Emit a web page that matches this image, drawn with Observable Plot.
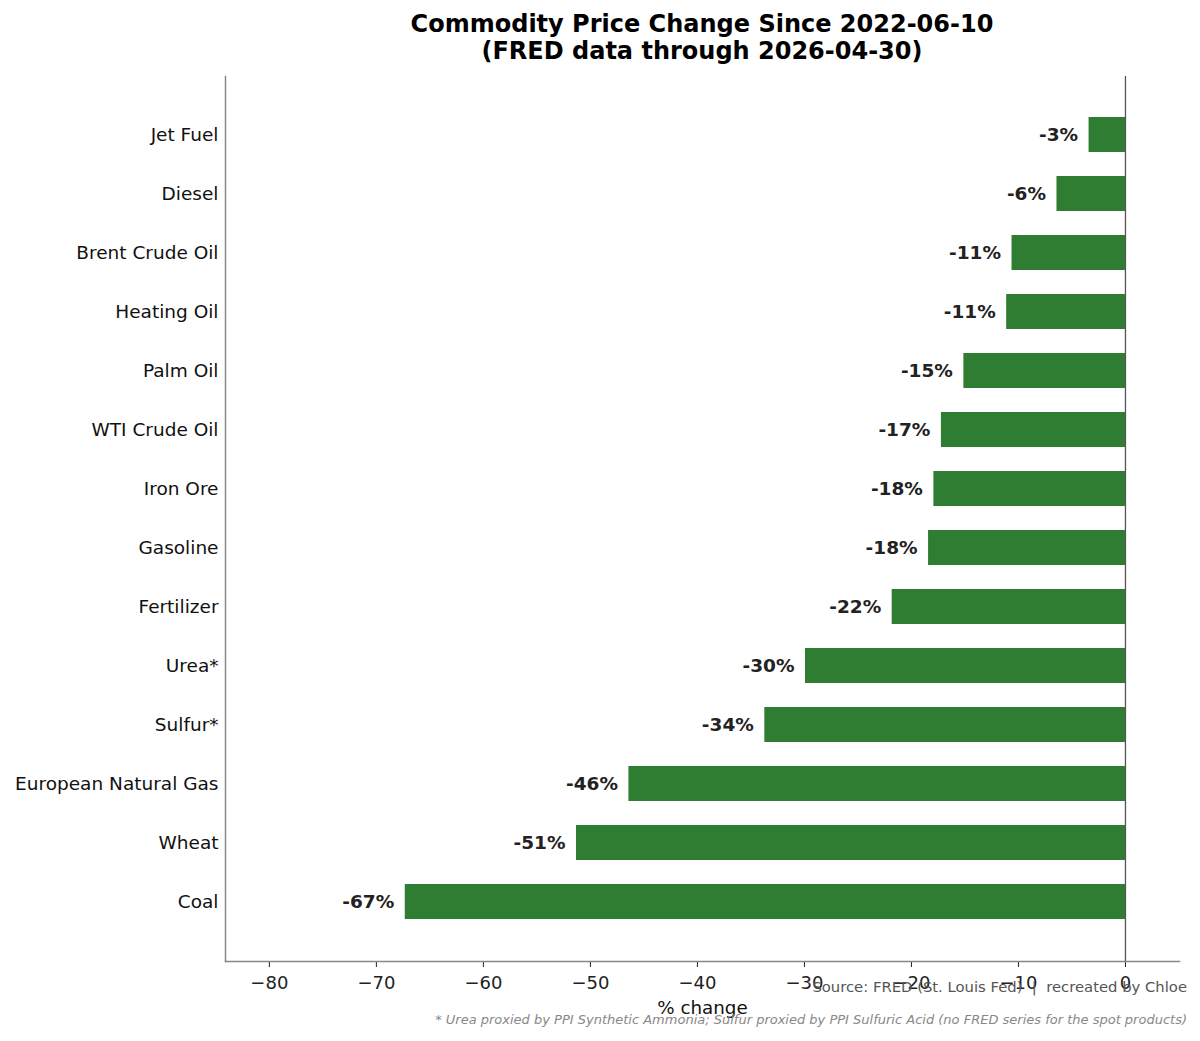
<!DOCTYPE html>
<html><head><meta charset="utf-8">
<script src="https://cdn.jsdelivr.net/npm/d3@7"></script>
<script src="https://cdn.jsdelivr.net/npm/@observablehq/plot@0.6"></script>
<style>
body{margin:0;background:#fff;font-family:"DejaVu Sans",sans-serif;}
#wrap{position:relative;width:1200px;height:1041px;overflow:hidden;}
#chart{position:absolute;left:0;top:0;}
#title{position:absolute;left:225px;width:954px;top:11px;text-align:center;font-weight:bold;font-size:24px;line-height:27px;color:#000;white-space:nowrap;}
#source{position:absolute;right:13px;top:978px;font-size:14.8px;color:#555;white-space:pre;}
#note{position:absolute;right:13px;top:1012px;font-size:13px;color:#888;font-style:italic;white-space:pre;}
</style></head>
<body><div id="wrap">
<div id="chart"></div>
<div id="title">Commodity Price Change Since 2022-06-10<br>(FRED data through 2026-04-30)</div>
<div id="source">Source: FRED (St. Louis Fed)  |  recreated by Chloe</div>
<div id="note">* Urea proxied by PPI Synthetic Ammonia; Sulfur proxied by PPI Sulfuric Acid (no FRED series for the spot products)</div>
</div>
<script>
const categories = ["Jet Fuel","Diesel","Brent Crude Oil","Heating Oil","Palm Oil","WTI Crude Oil","Iron Ore","Gasoline","Fertilizer","Urea*","Sulfur*","European Natural Gas","Wheat","Coal"];
const changes = [-3.4,-6.4,-10.6,-11.1,-15.1,-17.2,-17.9,-18.4,-21.8,-29.9,-33.7,-46.4,-51.3,-67.3];
const xTicks = [-80,-70,-60,-50,-40,-30,-20,-10,0];
const xLabel = "% change";

const data = categories.map((c,i)=>({commodity:c, change:changes[i]}));
const fmt = d3.format("d");

const chart = Plot.plot({
  width:1200, height:1041,
  marginTop:76, marginBottom:80, marginLeft:225, marginRight:21,
  style:{fontFamily:"DejaVu Sans", fontSize:"18px", background:"transparent", overflow:"visible"},
  x:{domain:[-84.1,5.05]},
  y:{domain:categories, paddingInner:0.4, paddingOuter:0.7},
  marks:[
    Plot.barX(data,{x:"change", y:"commodity", fill:"#2e7d32"}),
    Plot.ruleX([0],{stroke:"#555", strokeWidth:1.3}),
    Plot.text(data,{x:"change", y:"commodity", text:d=>`${Math.round(d.change)}%`, textAnchor:"end", dx:-11, fontWeight:"bold", fill:"#222", fontSize:18.5}),
    Plot.axisX({ticks:xTicks, tickSize:6, tickPadding:9, tickFormat:fmt, fontSize:18, label:null, color:"#222"}),
    Plot.axisY({tickSize:0, tickPadding:7, label:null, fontSize:18.5, color:"#111"}),
    Plot.frame({anchor:"left", stroke:"#888", strokeWidth:1.5}),
    Plot.frame({anchor:"bottom", stroke:"#888", strokeWidth:1.5}),
    Plot.text([xLabel], {text:d=>d, frameAnchor:"bottom", dy:52, fontSize:18.3, fill:"#111"})
  ]
});
document.getElementById("chart").appendChild(chart);
</script>
</body></html>
